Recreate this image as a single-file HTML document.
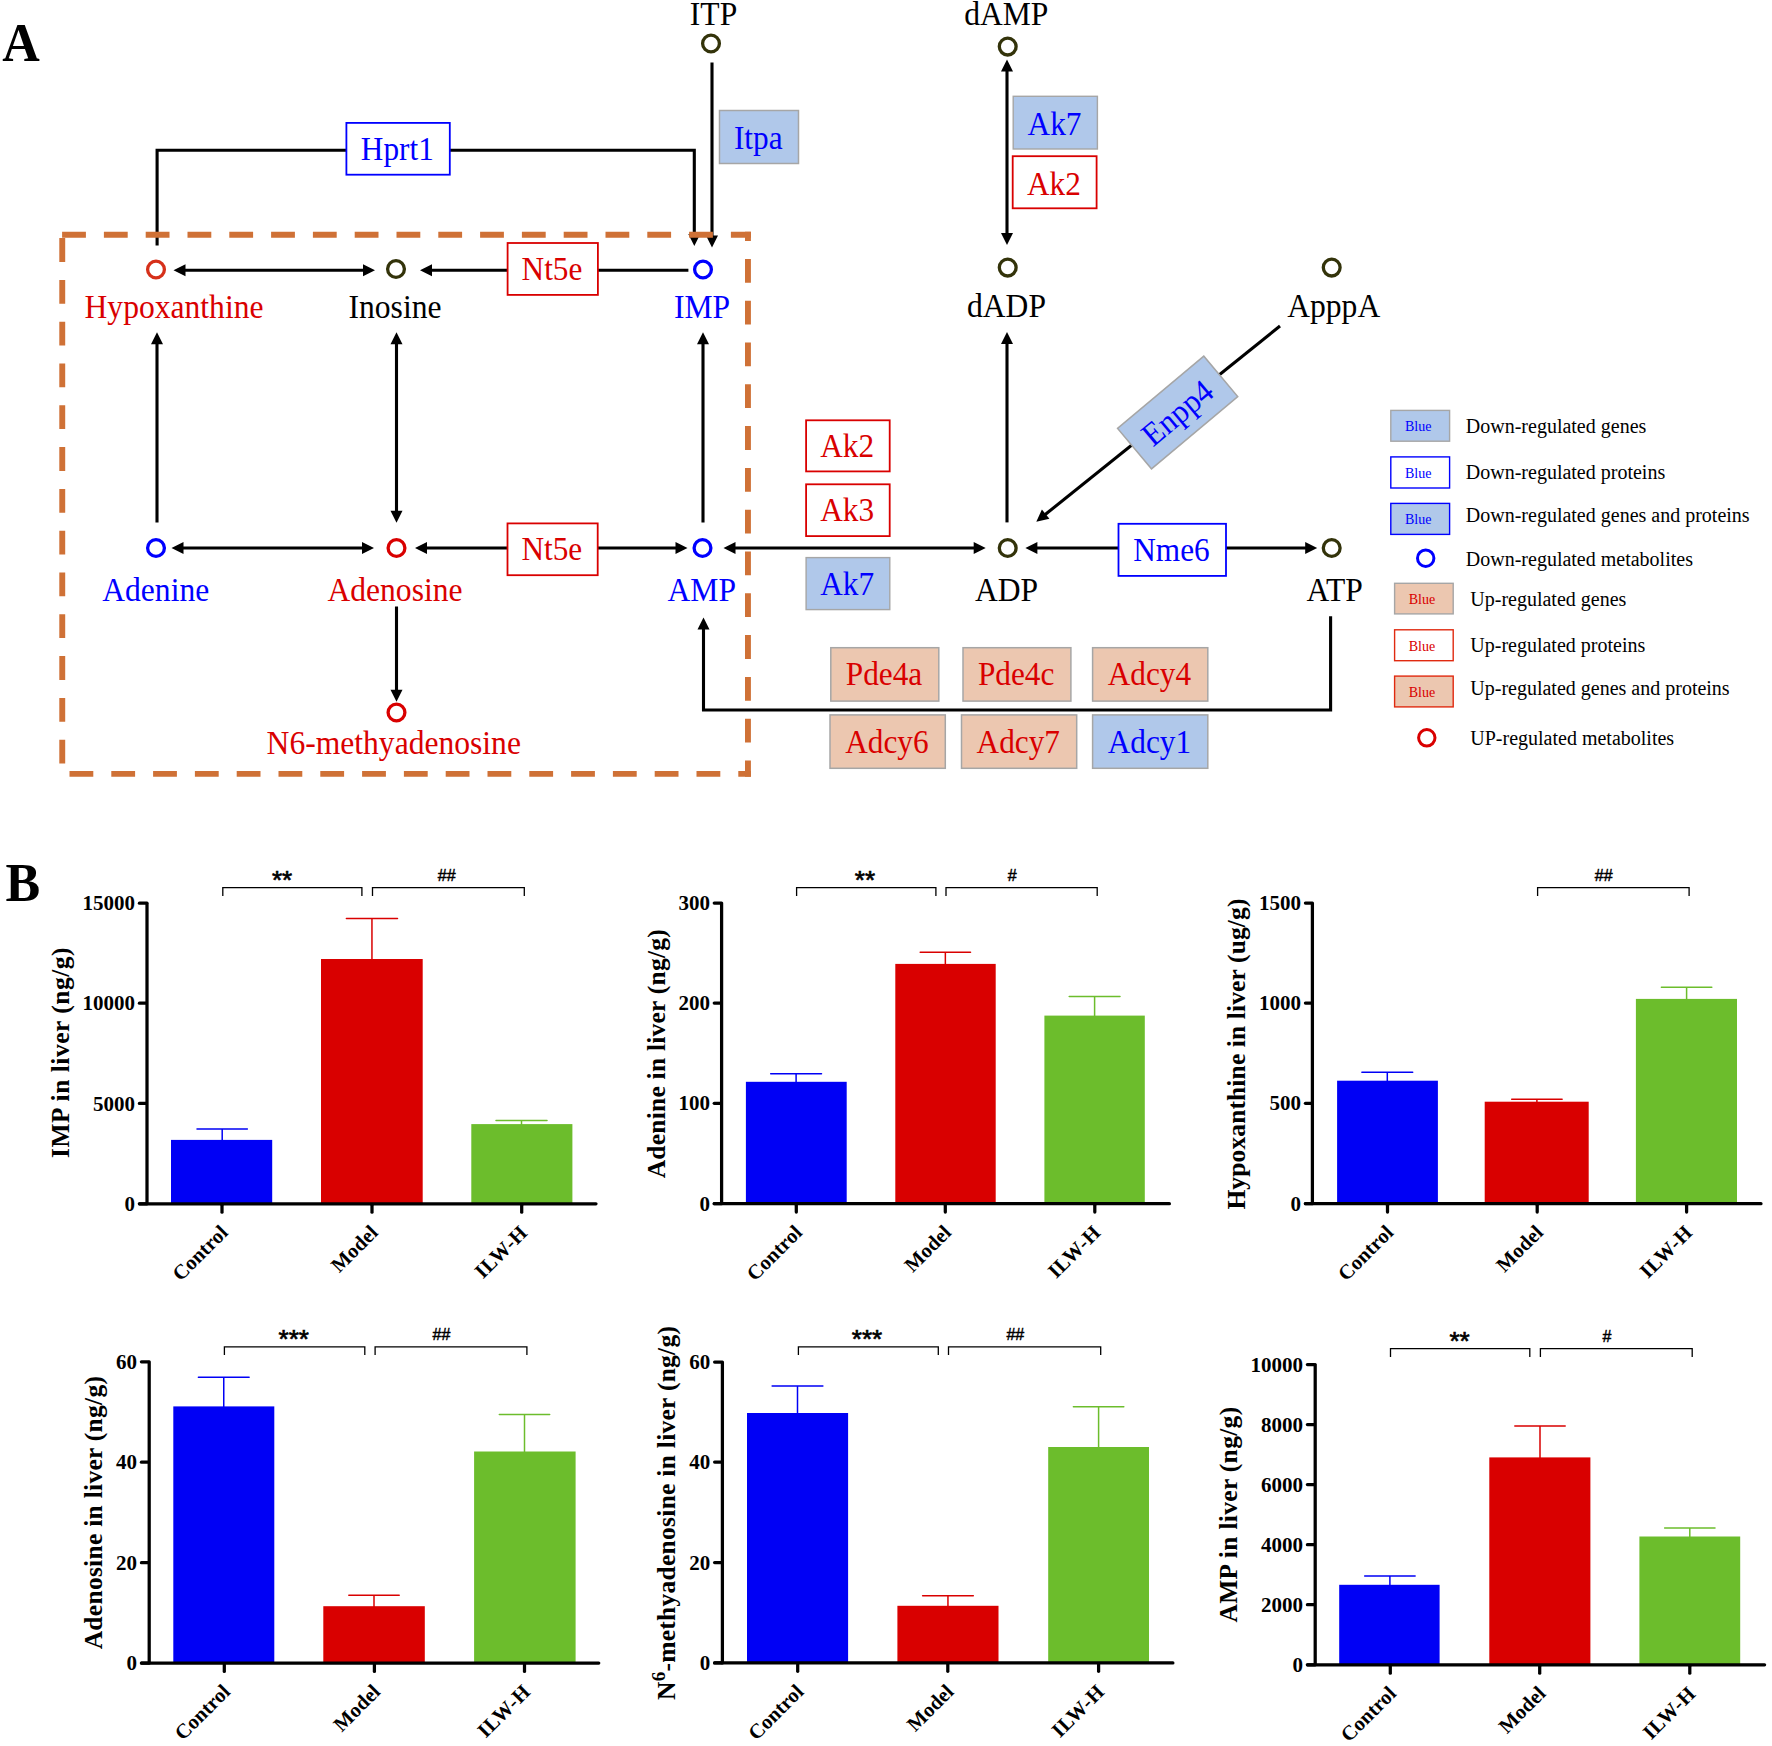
<!DOCTYPE html>
<html lang="en"><head><meta charset="utf-8"><title>Purine metabolism pathway and liver metabolite levels</title>
<style>html,body{margin:0;padding:0;background:#fff}svg{display:block}text{font-family:"Liberation Serif", "DejaVu Serif", serif;}text.ss{font-family:"Liberation Sans","DejaVu Sans",sans-serif;}</style></head><body>
<svg width="1772" height="1746" viewBox="0 0 1772 1746" role="img" aria-label="Purine metabolism pathway and liver metabolite bar charts">
<rect x="0" y="0" width="1772" height="1746" fill="#fff"/>
<text transform="translate(2.2 61.3) scale(1 1.045)" font-size="52" font-weight="bold">A</text>
<text transform="translate(5.4 901) scale(1 1.045)" font-size="52" font-weight="bold">B</text>
<polyline points="157.1,245.6 157.1,150.3 694.3,150.3 694.3,236" fill="none" stroke="#000" stroke-width="3.1" stroke-linejoin="miter"/>
<polygon points="694.3,246 688.3,234 700.3,234" fill="#000"/>
<line x1="712" y1="62.5" x2="712" y2="236.5" stroke="#000" stroke-width="3.1" stroke-linecap="butt"/>
<polygon points="712,247.5 706,235.5 718,235.5" fill="#000"/>
<line x1="184.5" y1="270.3" x2="364" y2="270.3" stroke="#000" stroke-width="3.1" stroke-linecap="butt"/>
<polygon points="173.5,270.3 185.5,264.3 185.5,276.3" fill="#000"/>
<polygon points="375,270.3 363,276.3 363,264.3" fill="#000"/>
<line x1="688.4" y1="270.3" x2="431" y2="270.3" stroke="#000" stroke-width="3.1" stroke-linecap="butt"/>
<polygon points="420,270.3 432,264.3 432,276.3" fill="#000"/>
<line x1="157" y1="522.5" x2="157" y2="343.3" stroke="#000" stroke-width="3.1" stroke-linecap="butt"/>
<polygon points="157,332.3 163,344.3 151,344.3" fill="#000"/>
<line x1="396.5" y1="343.3" x2="396.5" y2="511.8" stroke="#000" stroke-width="3.1" stroke-linecap="butt"/>
<polygon points="396.5,332.3 402.5,344.3 390.5,344.3" fill="#000"/>
<polygon points="396.5,522.8 390.5,510.8 402.5,510.8" fill="#000"/>
<line x1="703" y1="522.5" x2="703" y2="343.3" stroke="#000" stroke-width="3.1" stroke-linecap="butt"/>
<polygon points="703,332.3 709,344.3 697,344.3" fill="#000"/>
<line x1="182.5" y1="548" x2="363" y2="548" stroke="#000" stroke-width="3.1" stroke-linecap="butt"/>
<polygon points="171.5,548 183.5,542 183.5,554" fill="#000"/>
<polygon points="374,548 362,554 362,542" fill="#000"/>
<line x1="426" y1="548" x2="676.5" y2="548" stroke="#000" stroke-width="3.1" stroke-linecap="butt"/>
<polygon points="415,548 427,542 427,554" fill="#000"/>
<polygon points="687.5,548 675.5,554 675.5,542" fill="#000"/>
<line x1="734.5" y1="548" x2="974.7" y2="548" stroke="#000" stroke-width="3.1" stroke-linecap="butt"/>
<polygon points="723.5,548 735.5,542 735.5,554" fill="#000"/>
<polygon points="985.7,548 973.7,554 973.7,542" fill="#000"/>
<line x1="1036.4" y1="548" x2="1306.2" y2="548" stroke="#000" stroke-width="3.1" stroke-linecap="butt"/>
<polygon points="1025.4,548 1037.4,542 1037.4,554" fill="#000"/>
<polygon points="1317.2,548 1305.2,554 1305.2,542" fill="#000"/>
<line x1="396.5" y1="606.5" x2="396.5" y2="690.8" stroke="#000" stroke-width="3.1" stroke-linecap="butt"/>
<polygon points="396.5,701.8 390.5,689.8 402.5,689.8" fill="#000"/>
<polyline points="1330.6,616.3 1330.6,710 703.5,710 703.5,627" fill="none" stroke="#000" stroke-width="3.1" stroke-linejoin="miter"/>
<polygon points="703.5,617.5 709.5,629.5 697.5,629.5" fill="#000"/>
<line x1="1007" y1="522.4" x2="1007" y2="343" stroke="#000" stroke-width="3.1" stroke-linecap="butt"/>
<polygon points="1007,332 1013,344 1001,344" fill="#000"/>
<line x1="1007" y1="70.6" x2="1007" y2="233.9" stroke="#000" stroke-width="3.1" stroke-linecap="butt"/>
<polygon points="1007,59.6 1013,71.6 1001,71.6" fill="#000"/>
<polygon points="1007,244.9 1001,232.9 1013,232.9" fill="#000"/>
<line x1="1280" y1="326" x2="1044.88" y2="514.81" stroke="#000" stroke-width="3.1" stroke-linecap="butt"/>
<polygon points="1036.3,521.7 1041.9,509.51 1049.41,518.86" fill="#000"/>
<line x1="62.1" y1="234.7" x2="750.9" y2="234.7" stroke="#cf7136" stroke-width="6" stroke-dasharray="23.8 18" stroke-dashoffset="0"/>
<line x1="747.95" y1="231.7" x2="747.95" y2="776.8" stroke="#cf7136" stroke-width="5.9" stroke-dasharray="23.8 18" stroke-dashoffset="14.6"/>
<line x1="69.5" y1="773.9" x2="750.9" y2="773.9" stroke="#cf7136" stroke-width="5.9" stroke-dasharray="23.8 18" stroke-dashoffset="0"/>
<line x1="62.25" y1="238.1" x2="62.25" y2="764" stroke="#cf7136" stroke-width="5.9" stroke-dasharray="23.8 18" stroke-dashoffset="0"/>
<circle cx="711" cy="43.5" r="8.4" fill="#fff" stroke="#33330a" stroke-width="3.3"/>
<circle cx="1007.7" cy="46.6" r="8.4" fill="#fff" stroke="#33330a" stroke-width="3.3"/>
<circle cx="156" cy="269.5" r="8.4" fill="#fff" stroke="#d6301a" stroke-width="3.3"/>
<circle cx="396" cy="269" r="8.4" fill="#fff" stroke="#33330a" stroke-width="3.3"/>
<circle cx="703" cy="269.5" r="8.4" fill="#fff" stroke="#0000ff" stroke-width="3.3"/>
<circle cx="1007.7" cy="267.6" r="8.4" fill="#fff" stroke="#33330a" stroke-width="3.3"/>
<circle cx="1331.7" cy="267.6" r="8.4" fill="#fff" stroke="#33330a" stroke-width="3.3"/>
<circle cx="156" cy="548" r="8.4" fill="#fff" stroke="#0000ff" stroke-width="3.3"/>
<circle cx="396.5" cy="548" r="8.4" fill="#fff" stroke="#d90000" stroke-width="3.3"/>
<circle cx="702.5" cy="548" r="8.4" fill="#fff" stroke="#0000ff" stroke-width="3.3"/>
<circle cx="1007.7" cy="548" r="8.4" fill="#fff" stroke="#33330a" stroke-width="3.3"/>
<circle cx="1331.7" cy="548" r="8.4" fill="#fff" stroke="#33330a" stroke-width="3.3"/>
<circle cx="396.5" cy="712.5" r="8.4" fill="#fff" stroke="#d90000" stroke-width="3.3"/>
<text transform="translate(713.5 25) scale(1 1.045)" font-size="31.6" fill="#000" text-anchor="middle">ITP</text>
<text transform="translate(1006.3 24.6) scale(1 1.045)" font-size="31.6" fill="#000" text-anchor="middle">dAMP</text>
<text transform="translate(174 317.5) scale(1 1.045)" font-size="31.6" fill="#d90000" text-anchor="middle">Hypoxanthine</text>
<text transform="translate(395 317.5) scale(1 1.045)" font-size="31.6" fill="#000" text-anchor="middle">Inosine</text>
<text transform="translate(702 317.5) scale(1 1.045)" font-size="31.6" fill="#0000ff" text-anchor="middle">IMP</text>
<text transform="translate(1006.5 317) scale(1 1.045)" font-size="31.6" fill="#000" text-anchor="middle">dADP</text>
<text transform="translate(1333.7 317) scale(1 1.045)" font-size="31.6" fill="#000" text-anchor="middle">ApppA</text>
<text transform="translate(155.75 601) scale(1 1.045)" font-size="31.6" fill="#0000ff" text-anchor="middle">Adenine</text>
<text transform="translate(395 601) scale(1 1.045)" font-size="31.6" fill="#d90000" text-anchor="middle">Adenosine</text>
<text transform="translate(701.75 601) scale(1 1.045)" font-size="31.6" fill="#0000ff" text-anchor="middle">AMP</text>
<text transform="translate(1006.5 601) scale(1 1.045)" font-size="31.6" fill="#000" text-anchor="middle">ADP</text>
<text transform="translate(1334.7 601) scale(1 1.045)" font-size="31.6" fill="#000" text-anchor="middle">ATP</text>
<text transform="translate(393.75 754) scale(1 1.045)" font-size="31.6" fill="#d90000" text-anchor="middle">N6-methyadenosine</text>
<rect x="346.4" y="122.9" width="103.4" height="51.8" fill="#fff" stroke="#0000ff" stroke-width="1.8"/>
<text transform="translate(397.3 160.2) scale(1 1.045)" font-size="31.3" fill="#0000ff" text-anchor="middle">Hprt1</text>
<rect x="719.5" y="110.5" width="79" height="53" fill="#b0c8ea" stroke="#a6a6a6" stroke-width="1.5"/>
<text transform="translate(758.2 148.6) scale(1 1.045)" font-size="31.3" fill="#0000ff" text-anchor="middle">Itpa</text>
<rect x="507.6" y="243" width="90.3" height="51.9" fill="#fff" stroke="#d90000" stroke-width="1.8"/>
<text transform="translate(551.95 280.45) scale(1 1.045)" font-size="31.3" fill="#d90000" text-anchor="middle">Nt5e</text>
<rect x="507.5" y="523.4" width="90.2" height="51.8" fill="#fff" stroke="#d90000" stroke-width="1.8"/>
<text transform="translate(551.8 560.2) scale(1 1.045)" font-size="31.3" fill="#d90000" text-anchor="middle">Nt5e</text>
<rect x="1013.2" y="96.3" width="84.2" height="52.7" fill="#b0c8ea" stroke="#a6a6a6" stroke-width="1.4"/>
<text transform="translate(1054.5 134.55) scale(1 1.045)" font-size="31.3" fill="#0000ff" text-anchor="middle">Ak7</text>
<rect x="1012.7" y="156.2" width="83.9" height="52.1" fill="#fff" stroke="#d90000" stroke-width="1.8"/>
<text transform="translate(1053.85 194.55) scale(1 1.045)" font-size="31.3" fill="#d90000" text-anchor="middle">Ak2</text>
<rect x="806.1" y="420.3" width="83.6" height="51.1" fill="#fff" stroke="#d90000" stroke-width="1.8"/>
<text transform="translate(847.1 457.05) scale(1 1.045)" font-size="31.3" fill="#d90000" text-anchor="middle">Ak2</text>
<rect x="806.1" y="484.3" width="83.6" height="51.8" fill="#fff" stroke="#d90000" stroke-width="1.8"/>
<text transform="translate(847.1 521.1) scale(1 1.045)" font-size="31.3" fill="#d90000" text-anchor="middle">Ak3</text>
<rect x="806.1" y="557.6" width="83.7" height="52" fill="#b0c8ea" stroke="#a6a6a6" stroke-width="1.4"/>
<text transform="translate(847.15 595) scale(1 1.045)" font-size="31.3" fill="#0000ff" text-anchor="middle">Ak7</text>
<rect x="1118.5" y="523.8" width="107.5" height="52.1" fill="#fff" stroke="#0000ff" stroke-width="1.8"/>
<text transform="translate(1171.45 561.25) scale(1 1.045)" font-size="31.3" fill="#0000ff" text-anchor="middle">Nme6</text>
<rect x="830.8" y="647.7" width="108" height="53.4" fill="#ecc7b0" stroke="#a6a6a6" stroke-width="1.5"/>
<text transform="translate(884 685.2) scale(1 1.045)" font-size="31.3" fill="#d90000" text-anchor="middle">Pde4a</text>
<rect x="963" y="647.7" width="107.9" height="53.4" fill="#ecc7b0" stroke="#a6a6a6" stroke-width="1.5"/>
<text transform="translate(1016.15 685.2) scale(1 1.045)" font-size="31.3" fill="#d90000" text-anchor="middle">Pde4c</text>
<rect x="1092.6" y="647.7" width="115.2" height="53.4" fill="#ecc7b0" stroke="#a6a6a6" stroke-width="1.5"/>
<text transform="translate(1149.4 685.2) scale(1 1.045)" font-size="31.3" fill="#d90000" text-anchor="middle">Adcy4</text>
<rect x="830" y="714.9" width="115.3" height="53.4" fill="#ecc7b0" stroke="#a6a6a6" stroke-width="1.5"/>
<text transform="translate(886.85 753) scale(1 1.045)" font-size="31.3" fill="#d90000" text-anchor="middle">Adcy6</text>
<rect x="961.5" y="714.9" width="115.2" height="53.4" fill="#ecc7b0" stroke="#a6a6a6" stroke-width="1.5"/>
<text transform="translate(1018.3 753) scale(1 1.045)" font-size="31.3" fill="#d90000" text-anchor="middle">Adcy7</text>
<rect x="1092.6" y="714.9" width="115.2" height="53.4" fill="#b0c8ea" stroke="#a6a6a6" stroke-width="1.5"/>
<text transform="translate(1149.4 753) scale(1 1.045)" font-size="31.3" fill="#0000ff" text-anchor="middle">Adcy1</text>
<g transform="translate(1177.65 412.5) rotate(-40)">
<rect x="-56.3" y="-26.4" width="112.6" height="52.8" fill="#b0c8ea" stroke="#a6a6a6" stroke-width="1.5"/>
<text transform="translate(-0.5 11) scale(1 1.045)" font-size="31.3" fill="#0000ff" text-anchor="middle">Enpp4</text>
</g>
<rect x="1390.8" y="410.4" width="58.8" height="30.8" fill="#b0c8ea" stroke="#a6a6a6" stroke-width="1.4"/>
<text x="1418.2" y="431.3" font-size="14" fill="#0000ff" text-anchor="middle">Blue</text>
<rect x="1390.8" y="456.9" width="58.8" height="31.1" fill="#fff" stroke="#0000ff" stroke-width="1.4"/>
<text x="1418.2" y="477.95" font-size="14" fill="#0000ff" text-anchor="middle">Blue</text>
<rect x="1390.8" y="503.4" width="58.8" height="31" fill="#b0c8ea" stroke="#0000ff" stroke-width="1.4"/>
<text x="1418.2" y="524.4" font-size="14" fill="#0000ff" text-anchor="middle">Blue</text>
<circle cx="1425.7" cy="558.2" r="8.2" fill="#fff" stroke="#0000ff" stroke-width="3"/>
<rect x="1394.6" y="583.3" width="58.6" height="30.6" fill="#ecc7b0" stroke="#a6a6a6" stroke-width="1.4"/>
<text x="1421.9" y="604.1" font-size="14" fill="#d90000" text-anchor="middle">Blue</text>
<rect x="1394.6" y="629.8" width="58.6" height="30.9" fill="#fff" stroke="#e02a10" stroke-width="1.4"/>
<text x="1421.9" y="650.75" font-size="14" fill="#d90000" text-anchor="middle">Blue</text>
<rect x="1394.6" y="676.1" width="58.6" height="30.8" fill="#ecc7b0" stroke="#e02a10" stroke-width="1.4"/>
<text x="1421.9" y="697" font-size="14" fill="#d90000" text-anchor="middle">Blue</text>
<circle cx="1426.8" cy="737.8" r="8.2" fill="#fff" stroke="#d90000" stroke-width="3"/>
<text x="1465.8" y="433" font-size="20" fill="#000" text-anchor="start">Down-regulated genes</text>
<text x="1465.8" y="479" font-size="20" fill="#000" text-anchor="start">Down-regulated proteins</text>
<text x="1465.8" y="521.9" font-size="20" fill="#000" text-anchor="start">Down-regulated genes and proteins</text>
<text x="1465.8" y="565.5" font-size="20" fill="#000" text-anchor="start">Down-regulated metabolites</text>
<text x="1470.3" y="605.5" font-size="20" fill="#000" text-anchor="start">Up-regulated genes</text>
<text x="1470.3" y="651.5" font-size="20" fill="#000" text-anchor="start">Up-regulated proteins</text>
<text x="1470.3" y="695" font-size="20" fill="#000" text-anchor="start">Up-regulated genes and proteins</text>
<text x="1470.3" y="745" font-size="20" fill="#000" text-anchor="start">UP-regulated metabolites</text>
<line x1="222.2" y1="1129" x2="222.2" y2="1141.9" stroke="#0000f5" stroke-width="1.5" stroke-linecap="butt"/>
<line x1="197" y1="1129" x2="247.4" y2="1129" stroke="#0000f5" stroke-width="1.5" stroke-linecap="round"/>
<rect x="171" y="1139.9" width="101.2" height="63.9" fill="#0000f5"/>
<line x1="371.95" y1="918.4" x2="371.95" y2="961" stroke="#d90000" stroke-width="1.5" stroke-linecap="butt"/>
<line x1="346.4" y1="918.4" x2="397.5" y2="918.4" stroke="#d90000" stroke-width="1.5" stroke-linecap="round"/>
<rect x="321" y="959" width="101.7" height="244.8" fill="#d90000"/>
<line x1="521.5" y1="1120.6" x2="521.5" y2="1126.1" stroke="#6cbd2c" stroke-width="1.5" stroke-linecap="butt"/>
<line x1="496" y1="1120.6" x2="547" y2="1120.6" stroke="#6cbd2c" stroke-width="1.5" stroke-linecap="round"/>
<rect x="471.3" y="1124.1" width="101.1" height="79.7" fill="#6cbd2c"/>
<line x1="147" y1="903.2" x2="147" y2="1203.8" stroke="#000" stroke-width="3.25" stroke-linecap="round"/>
<line x1="139.43" y1="1203.8" x2="595.98" y2="1203.8" stroke="#000" stroke-width="3.25" stroke-linecap="round"/>
<line x1="139.43" y1="903.2" x2="146" y2="903.2" stroke="#000" stroke-width="3.25" stroke-linecap="round"/>
<text x="135.1" y="910.3" font-size="21" fill="#000" text-anchor="end" font-weight="bold">15000</text>
<line x1="139.43" y1="1003.2" x2="146" y2="1003.2" stroke="#000" stroke-width="3.25" stroke-linecap="round"/>
<text x="135.1" y="1010.3" font-size="21" fill="#000" text-anchor="end" font-weight="bold">10000</text>
<line x1="139.43" y1="1103.4" x2="146" y2="1103.4" stroke="#000" stroke-width="3.25" stroke-linecap="round"/>
<text x="135.1" y="1110.5" font-size="21" fill="#000" text-anchor="end" font-weight="bold">5000</text>
<line x1="139.43" y1="1203.8" x2="146" y2="1203.8" stroke="#000" stroke-width="3.25" stroke-linecap="round"/>
<text x="135.1" y="1210.9" font-size="21" fill="#000" text-anchor="end" font-weight="bold">0</text>
<line x1="222" y1="1205.3" x2="222" y2="1212.17" stroke="#000" stroke-width="3.25" stroke-linecap="round"/>
<text transform="translate(229 1233.8) rotate(-45)" font-size="20.6" font-weight="bold" text-anchor="end">Control</text>
<line x1="372" y1="1205.3" x2="372" y2="1212.17" stroke="#000" stroke-width="3.25" stroke-linecap="round"/>
<text transform="translate(379 1233.8) rotate(-45)" font-size="20.6" font-weight="bold" text-anchor="end">Model</text>
<line x1="521.7" y1="1205.3" x2="521.7" y2="1212.17" stroke="#000" stroke-width="3.25" stroke-linecap="round"/>
<text transform="translate(528.7 1233.8) rotate(-45)" font-size="20.6" font-weight="bold" text-anchor="end" letter-spacing="0.4">ILW-H</text>
<polyline points="222.8,895.9 222.8,887.6 361.9,887.6 361.9,895.9" fill="none" stroke="#000" stroke-width="1.3" stroke-linejoin="miter"/>
<polyline points="372.5,895.9 372.5,887.6 524.3,887.6 524.3,895.9" fill="none" stroke="#000" stroke-width="1.3" stroke-linejoin="miter"/>
<text x="282.1" y="888.7" font-size="26" fill="#000" text-anchor="middle" class="ss" stroke="#000" stroke-width="0.7">**</text>
<text x="446.7" y="880.9" font-size="16" fill="#000" text-anchor="middle" class="ss" stroke="#000" stroke-width="0.45">##</text>
<text transform="translate(69 1052.7) rotate(-90)" font-size="25.5" font-weight="bold" text-anchor="middle" textLength="210.5" lengthAdjust="spacing">IMP in liver (ng/g)</text>
<line x1="796.1" y1="1073.7" x2="796.1" y2="1083.8" stroke="#0000f5" stroke-width="1.5" stroke-linecap="butt"/>
<line x1="770.7" y1="1073.7" x2="821.5" y2="1073.7" stroke="#0000f5" stroke-width="1.5" stroke-linecap="round"/>
<rect x="745.9" y="1081.8" width="100.8" height="121.9" fill="#0000f5"/>
<line x1="945.35" y1="952.3" x2="945.35" y2="965.9" stroke="#d90000" stroke-width="1.5" stroke-linecap="butt"/>
<line x1="920.2" y1="952.3" x2="970.5" y2="952.3" stroke="#d90000" stroke-width="1.5" stroke-linecap="round"/>
<rect x="895.3" y="963.9" width="100.4" height="239.8" fill="#d90000"/>
<line x1="1094.6" y1="996.4" x2="1094.6" y2="1017.6" stroke="#6cbd2c" stroke-width="1.5" stroke-linecap="butt"/>
<line x1="1069.2" y1="996.4" x2="1120" y2="996.4" stroke="#6cbd2c" stroke-width="1.5" stroke-linecap="round"/>
<rect x="1044.4" y="1015.6" width="100.4" height="188.1" fill="#6cbd2c"/>
<line x1="721.6" y1="903" x2="721.6" y2="1203.7" stroke="#000" stroke-width="3.25" stroke-linecap="round"/>
<line x1="714.23" y1="1203.7" x2="1169.38" y2="1203.7" stroke="#000" stroke-width="3.25" stroke-linecap="round"/>
<line x1="714.23" y1="903" x2="720.6" y2="903" stroke="#000" stroke-width="3.25" stroke-linecap="round"/>
<text x="709.9" y="910.1" font-size="21" fill="#000" text-anchor="end" font-weight="bold">300</text>
<line x1="714.23" y1="1003.1" x2="720.6" y2="1003.1" stroke="#000" stroke-width="3.25" stroke-linecap="round"/>
<text x="709.9" y="1010.2" font-size="21" fill="#000" text-anchor="end" font-weight="bold">200</text>
<line x1="714.23" y1="1103.3" x2="720.6" y2="1103.3" stroke="#000" stroke-width="3.25" stroke-linecap="round"/>
<text x="709.9" y="1110.4" font-size="21" fill="#000" text-anchor="end" font-weight="bold">100</text>
<line x1="714.23" y1="1203.7" x2="720.6" y2="1203.7" stroke="#000" stroke-width="3.25" stroke-linecap="round"/>
<text x="709.9" y="1210.8" font-size="21" fill="#000" text-anchor="end" font-weight="bold">0</text>
<line x1="796.3" y1="1205.2" x2="796.3" y2="1212.08" stroke="#000" stroke-width="3.25" stroke-linecap="round"/>
<text transform="translate(803.3 1233.7) rotate(-45)" font-size="20.6" font-weight="bold" text-anchor="end">Control</text>
<line x1="945.3" y1="1205.2" x2="945.3" y2="1212.08" stroke="#000" stroke-width="3.25" stroke-linecap="round"/>
<text transform="translate(952.3 1233.7) rotate(-45)" font-size="20.6" font-weight="bold" text-anchor="end">Model</text>
<line x1="1094.8" y1="1205.2" x2="1094.8" y2="1212.08" stroke="#000" stroke-width="3.25" stroke-linecap="round"/>
<text transform="translate(1101.8 1233.7) rotate(-45)" font-size="20.6" font-weight="bold" text-anchor="end" letter-spacing="0.4">ILW-H</text>
<polyline points="796.6,895.9 796.6,887.6 935.9,887.6 935.9,895.9" fill="none" stroke="#000" stroke-width="1.3" stroke-linejoin="miter"/>
<polyline points="946,895.9 946,887.6 1097.2,887.6 1097.2,895.9" fill="none" stroke="#000" stroke-width="1.3" stroke-linejoin="miter"/>
<text x="864.9" y="888.7" font-size="26" fill="#000" text-anchor="middle" class="ss" stroke="#000" stroke-width="0.7">**</text>
<text x="1012.2" y="880.9" font-size="16" fill="#000" text-anchor="middle" class="ss" stroke="#000" stroke-width="0.45">#</text>
<text transform="translate(665 1053.8) rotate(-90)" font-size="25.5" font-weight="bold" text-anchor="middle" textLength="249" lengthAdjust="spacing">Adenine in liver (ng/g)</text>
<line x1="1387.3" y1="1072.3" x2="1387.3" y2="1082.7" stroke="#0000f5" stroke-width="1.5" stroke-linecap="butt"/>
<line x1="1361.9" y1="1072.3" x2="1412.7" y2="1072.3" stroke="#0000f5" stroke-width="1.5" stroke-linecap="round"/>
<rect x="1337.1" y="1080.7" width="100.8" height="123" fill="#0000f5"/>
<line x1="1536.9" y1="1099.3" x2="1536.9" y2="1103.7" stroke="#d90000" stroke-width="1.5" stroke-linecap="butt"/>
<line x1="1511.7" y1="1099.3" x2="1562.1" y2="1099.3" stroke="#d90000" stroke-width="1.5" stroke-linecap="round"/>
<rect x="1484.7" y="1101.7" width="104" height="102" fill="#d90000"/>
<line x1="1686.6" y1="987.3" x2="1686.6" y2="1000.9" stroke="#6cbd2c" stroke-width="1.5" stroke-linecap="butt"/>
<line x1="1661.4" y1="987.3" x2="1711.8" y2="987.3" stroke="#6cbd2c" stroke-width="1.5" stroke-linecap="round"/>
<rect x="1635.9" y="998.9" width="101.1" height="204.8" fill="#6cbd2c"/>
<line x1="1312.4" y1="903" x2="1312.4" y2="1203.7" stroke="#000" stroke-width="3.25" stroke-linecap="round"/>
<line x1="1305.42" y1="1203.7" x2="1760.97" y2="1203.7" stroke="#000" stroke-width="3.25" stroke-linecap="round"/>
<line x1="1305.42" y1="903" x2="1311.4" y2="903" stroke="#000" stroke-width="3.25" stroke-linecap="round"/>
<text x="1301.1" y="910.1" font-size="21" fill="#000" text-anchor="end" font-weight="bold">1500</text>
<line x1="1305.42" y1="1003.1" x2="1311.4" y2="1003.1" stroke="#000" stroke-width="3.25" stroke-linecap="round"/>
<text x="1301.1" y="1010.2" font-size="21" fill="#000" text-anchor="end" font-weight="bold">1000</text>
<line x1="1305.42" y1="1103.3" x2="1311.4" y2="1103.3" stroke="#000" stroke-width="3.25" stroke-linecap="round"/>
<text x="1301.1" y="1110.4" font-size="21" fill="#000" text-anchor="end" font-weight="bold">500</text>
<line x1="1305.42" y1="1203.7" x2="1311.4" y2="1203.7" stroke="#000" stroke-width="3.25" stroke-linecap="round"/>
<text x="1301.1" y="1210.8" font-size="21" fill="#000" text-anchor="end" font-weight="bold">0</text>
<line x1="1387.5" y1="1205.2" x2="1387.5" y2="1212.08" stroke="#000" stroke-width="3.25" stroke-linecap="round"/>
<text transform="translate(1394.5 1233.7) rotate(-45)" font-size="20.6" font-weight="bold" text-anchor="end">Control</text>
<line x1="1537.2" y1="1205.2" x2="1537.2" y2="1212.08" stroke="#000" stroke-width="3.25" stroke-linecap="round"/>
<text transform="translate(1544.2 1233.7) rotate(-45)" font-size="20.6" font-weight="bold" text-anchor="end">Model</text>
<line x1="1686.6" y1="1205.2" x2="1686.6" y2="1212.08" stroke="#000" stroke-width="3.25" stroke-linecap="round"/>
<text transform="translate(1693.6 1233.7) rotate(-45)" font-size="20.6" font-weight="bold" text-anchor="end" letter-spacing="0.4">ILW-H</text>
<polyline points="1537.6,895.9 1537.6,887.6 1689.1,887.6 1689.1,895.9" fill="none" stroke="#000" stroke-width="1.3" stroke-linejoin="miter"/>
<text x="1603.7" y="880.9" font-size="16" fill="#000" text-anchor="middle" class="ss" stroke="#000" stroke-width="0.45">##</text>
<text transform="translate(1245.3 1054.1) rotate(-90)" font-size="25.5" font-weight="bold" text-anchor="middle" textLength="311" lengthAdjust="spacing">Hypoxanthine in liver (ug/g)</text>
<line x1="223.75" y1="1377.3" x2="223.75" y2="1408.4" stroke="#0000f5" stroke-width="1.5" stroke-linecap="butt"/>
<line x1="198.4" y1="1377.3" x2="249.1" y2="1377.3" stroke="#0000f5" stroke-width="1.5" stroke-linecap="round"/>
<rect x="173.3" y="1406.4" width="101" height="256.6" fill="#0000f5"/>
<line x1="374" y1="1595.3" x2="374" y2="1608.2" stroke="#d90000" stroke-width="1.5" stroke-linecap="butt"/>
<line x1="348.8" y1="1595.3" x2="399.2" y2="1595.3" stroke="#d90000" stroke-width="1.5" stroke-linecap="round"/>
<rect x="323.3" y="1606.2" width="101.5" height="56.8" fill="#d90000"/>
<line x1="524.5" y1="1414.4" x2="524.5" y2="1453.5" stroke="#6cbd2c" stroke-width="1.5" stroke-linecap="butt"/>
<line x1="499.3" y1="1414.4" x2="549.7" y2="1414.4" stroke="#6cbd2c" stroke-width="1.5" stroke-linecap="round"/>
<rect x="474.1" y="1451.5" width="101.5" height="211.5" fill="#6cbd2c"/>
<line x1="149.2" y1="1361.8" x2="149.2" y2="1663" stroke="#000" stroke-width="3.25" stroke-linecap="round"/>
<line x1="141.43" y1="1663" x2="598.77" y2="1663" stroke="#000" stroke-width="3.25" stroke-linecap="round"/>
<line x1="141.43" y1="1361.8" x2="148.2" y2="1361.8" stroke="#000" stroke-width="3.25" stroke-linecap="round"/>
<text x="137.1" y="1368.9" font-size="21" fill="#000" text-anchor="end" font-weight="bold">60</text>
<line x1="141.43" y1="1462.2" x2="148.2" y2="1462.2" stroke="#000" stroke-width="3.25" stroke-linecap="round"/>
<text x="137.1" y="1469.3" font-size="21" fill="#000" text-anchor="end" font-weight="bold">40</text>
<line x1="141.43" y1="1562.7" x2="148.2" y2="1562.7" stroke="#000" stroke-width="3.25" stroke-linecap="round"/>
<text x="137.1" y="1569.8" font-size="21" fill="#000" text-anchor="end" font-weight="bold">20</text>
<line x1="141.43" y1="1663" x2="148.2" y2="1663" stroke="#000" stroke-width="3.25" stroke-linecap="round"/>
<text x="137.1" y="1670.1" font-size="21" fill="#000" text-anchor="end" font-weight="bold">0</text>
<line x1="224.3" y1="1664.5" x2="224.3" y2="1671.38" stroke="#000" stroke-width="3.25" stroke-linecap="round"/>
<text transform="translate(231.3 1693) rotate(-45)" font-size="20.6" font-weight="bold" text-anchor="end">Control</text>
<line x1="374.4" y1="1664.5" x2="374.4" y2="1671.38" stroke="#000" stroke-width="3.25" stroke-linecap="round"/>
<text transform="translate(381.4 1693) rotate(-45)" font-size="20.6" font-weight="bold" text-anchor="end">Model</text>
<line x1="524.5" y1="1664.5" x2="524.5" y2="1671.38" stroke="#000" stroke-width="3.25" stroke-linecap="round"/>
<text transform="translate(531.5 1693) rotate(-45)" font-size="20.6" font-weight="bold" text-anchor="end" letter-spacing="0.4">ILW-H</text>
<polyline points="224.4,1355.1 224.4,1346.8 364.8,1346.8 364.8,1355.1" fill="none" stroke="#000" stroke-width="1.3" stroke-linejoin="miter"/>
<polyline points="375.1,1355.1 375.1,1346.8 526.9,1346.8 526.9,1355.1" fill="none" stroke="#000" stroke-width="1.3" stroke-linejoin="miter"/>
<text x="293.8" y="1347.8" font-size="26" fill="#000" text-anchor="middle" class="ss" stroke="#000" stroke-width="0.7">***</text>
<text x="441.5" y="1340" font-size="16" fill="#000" text-anchor="middle" class="ss" stroke="#000" stroke-width="0.45">##</text>
<text transform="translate(102.3 1512.7) rotate(-90)" font-size="25.5" font-weight="bold" text-anchor="middle" textLength="273.3" lengthAdjust="spacing">Adenosine in liver (ng/g)</text>
<line x1="797.5" y1="1386.1" x2="797.5" y2="1415" stroke="#0000f5" stroke-width="1.5" stroke-linecap="butt"/>
<line x1="772.1" y1="1386.1" x2="822.9" y2="1386.1" stroke="#0000f5" stroke-width="1.5" stroke-linecap="round"/>
<rect x="747" y="1413" width="101.1" height="249.9" fill="#0000f5"/>
<line x1="947.95" y1="1595.7" x2="947.95" y2="1607.8" stroke="#d90000" stroke-width="1.5" stroke-linecap="butt"/>
<line x1="922.6" y1="1595.7" x2="973.3" y2="1595.7" stroke="#d90000" stroke-width="1.5" stroke-linecap="round"/>
<rect x="897.4" y="1605.8" width="101.1" height="57.1" fill="#d90000"/>
<line x1="1098.6" y1="1406.7" x2="1098.6" y2="1449" stroke="#6cbd2c" stroke-width="1.5" stroke-linecap="butt"/>
<line x1="1073.4" y1="1406.7" x2="1123.8" y2="1406.7" stroke="#6cbd2c" stroke-width="1.5" stroke-linecap="round"/>
<rect x="1048.2" y="1447" width="100.8" height="215.9" fill="#6cbd2c"/>
<line x1="722.4" y1="1362" x2="722.4" y2="1662.9" stroke="#000" stroke-width="3.25" stroke-linecap="round"/>
<line x1="714.62" y1="1662.9" x2="1172.88" y2="1662.9" stroke="#000" stroke-width="3.25" stroke-linecap="round"/>
<line x1="714.62" y1="1362" x2="721.4" y2="1362" stroke="#000" stroke-width="3.25" stroke-linecap="round"/>
<text x="710.3" y="1369.1" font-size="21" fill="#000" text-anchor="end" font-weight="bold">60</text>
<line x1="714.62" y1="1462" x2="721.4" y2="1462" stroke="#000" stroke-width="3.25" stroke-linecap="round"/>
<text x="710.3" y="1469.1" font-size="21" fill="#000" text-anchor="end" font-weight="bold">40</text>
<line x1="714.62" y1="1562.5" x2="721.4" y2="1562.5" stroke="#000" stroke-width="3.25" stroke-linecap="round"/>
<text x="710.3" y="1569.6" font-size="21" fill="#000" text-anchor="end" font-weight="bold">20</text>
<line x1="714.62" y1="1662.9" x2="721.4" y2="1662.9" stroke="#000" stroke-width="3.25" stroke-linecap="round"/>
<text x="710.3" y="1670" font-size="21" fill="#000" text-anchor="end" font-weight="bold">0</text>
<line x1="797.7" y1="1664.4" x2="797.7" y2="1671.28" stroke="#000" stroke-width="3.25" stroke-linecap="round"/>
<text transform="translate(804.7 1692.9) rotate(-45)" font-size="20.6" font-weight="bold" text-anchor="end">Control</text>
<line x1="947.8" y1="1664.4" x2="947.8" y2="1671.28" stroke="#000" stroke-width="3.25" stroke-linecap="round"/>
<text transform="translate(954.8 1692.9) rotate(-45)" font-size="20.6" font-weight="bold" text-anchor="end">Model</text>
<line x1="1098.6" y1="1664.4" x2="1098.6" y2="1671.28" stroke="#000" stroke-width="3.25" stroke-linecap="round"/>
<text transform="translate(1105.6 1692.9) rotate(-45)" font-size="20.6" font-weight="bold" text-anchor="end" letter-spacing="0.4">ILW-H</text>
<polyline points="798.4,1355.1 798.4,1346.8 938.3,1346.8 938.3,1355.1" fill="none" stroke="#000" stroke-width="1.3" stroke-linejoin="miter"/>
<polyline points="948.5,1355.1 948.5,1346.8 1100.7,1346.8 1100.7,1355.1" fill="none" stroke="#000" stroke-width="1.3" stroke-linejoin="miter"/>
<text x="867" y="1347.8" font-size="26" fill="#000" text-anchor="middle" class="ss" stroke="#000" stroke-width="0.7">***</text>
<text x="1015.3" y="1340" font-size="16" fill="#000" text-anchor="middle" class="ss" stroke="#000" stroke-width="0.45">##</text>
<text transform="translate(675.2 1513) rotate(-90)" font-size="25.5" font-weight="bold" text-anchor="middle" textLength="374" lengthAdjust="spacing">N<tspan font-size="19" dy="-10.5">6</tspan><tspan dy="10.5">-methyadenosine in liver (ng/g)</tspan></text>
<line x1="1389.9" y1="1576" x2="1389.9" y2="1586.8" stroke="#0000f5" stroke-width="1.5" stroke-linecap="butt"/>
<line x1="1364.7" y1="1576" x2="1415.1" y2="1576" stroke="#0000f5" stroke-width="1.5" stroke-linecap="round"/>
<rect x="1339.2" y="1584.8" width="100.4" height="80" fill="#0000f5"/>
<line x1="1540" y1="1426" x2="1540" y2="1459.4" stroke="#d90000" stroke-width="1.5" stroke-linecap="butt"/>
<line x1="1514.8" y1="1426" x2="1565.2" y2="1426" stroke="#d90000" stroke-width="1.5" stroke-linecap="round"/>
<rect x="1489.3" y="1457.4" width="101.1" height="207.4" fill="#d90000"/>
<line x1="1689.8" y1="1528.1" x2="1689.8" y2="1538.5" stroke="#6cbd2c" stroke-width="1.5" stroke-linecap="butt"/>
<line x1="1664.6" y1="1528.1" x2="1715" y2="1528.1" stroke="#6cbd2c" stroke-width="1.5" stroke-linecap="round"/>
<rect x="1639.4" y="1536.5" width="100.8" height="128.3" fill="#6cbd2c"/>
<line x1="1315.2" y1="1364.6" x2="1315.2" y2="1664.8" stroke="#000" stroke-width="3.25" stroke-linecap="round"/>
<line x1="1307.42" y1="1664.8" x2="1764.58" y2="1664.8" stroke="#000" stroke-width="3.25" stroke-linecap="round"/>
<line x1="1307.42" y1="1364.6" x2="1314.2" y2="1364.6" stroke="#000" stroke-width="3.25" stroke-linecap="round"/>
<text x="1303.1" y="1371.7" font-size="21" fill="#000" text-anchor="end" font-weight="bold">10000</text>
<line x1="1307.42" y1="1424.6" x2="1314.2" y2="1424.6" stroke="#000" stroke-width="3.25" stroke-linecap="round"/>
<text x="1303.1" y="1431.7" font-size="21" fill="#000" text-anchor="end" font-weight="bold">8000</text>
<line x1="1307.42" y1="1484.6" x2="1314.2" y2="1484.6" stroke="#000" stroke-width="3.25" stroke-linecap="round"/>
<text x="1303.1" y="1491.7" font-size="21" fill="#000" text-anchor="end" font-weight="bold">6000</text>
<line x1="1307.42" y1="1544.7" x2="1314.2" y2="1544.7" stroke="#000" stroke-width="3.25" stroke-linecap="round"/>
<text x="1303.1" y="1551.8" font-size="21" fill="#000" text-anchor="end" font-weight="bold">4000</text>
<line x1="1307.42" y1="1604.7" x2="1314.2" y2="1604.7" stroke="#000" stroke-width="3.25" stroke-linecap="round"/>
<text x="1303.1" y="1611.8" font-size="21" fill="#000" text-anchor="end" font-weight="bold">2000</text>
<line x1="1307.42" y1="1664.8" x2="1314.2" y2="1664.8" stroke="#000" stroke-width="3.25" stroke-linecap="round"/>
<text x="1303.1" y="1671.9" font-size="21" fill="#000" text-anchor="end" font-weight="bold">0</text>
<line x1="1390.3" y1="1666.3" x2="1390.3" y2="1673.17" stroke="#000" stroke-width="3.25" stroke-linecap="round"/>
<text transform="translate(1397.3 1694.8) rotate(-45)" font-size="20.6" font-weight="bold" text-anchor="end">Control</text>
<line x1="1539.7" y1="1666.3" x2="1539.7" y2="1673.17" stroke="#000" stroke-width="3.25" stroke-linecap="round"/>
<text transform="translate(1546.7 1694.8) rotate(-45)" font-size="20.6" font-weight="bold" text-anchor="end">Model</text>
<line x1="1689.8" y1="1666.3" x2="1689.8" y2="1673.17" stroke="#000" stroke-width="3.25" stroke-linecap="round"/>
<text transform="translate(1696.8 1694.8) rotate(-45)" font-size="20.6" font-weight="bold" text-anchor="end" letter-spacing="0.4">ILW-H</text>
<polyline points="1390.5,1356.9 1390.5,1348.6 1529.8,1348.6 1529.8,1356.9" fill="none" stroke="#000" stroke-width="1.3" stroke-linejoin="miter"/>
<polyline points="1540.4,1356.9 1540.4,1348.6 1692.2,1348.6 1692.2,1356.9" fill="none" stroke="#000" stroke-width="1.3" stroke-linejoin="miter"/>
<text x="1459.6" y="1349.6" font-size="26" fill="#000" text-anchor="middle" class="ss" stroke="#000" stroke-width="0.7">**</text>
<text x="1607" y="1341.9" font-size="16" fill="#000" text-anchor="middle" class="ss" stroke="#000" stroke-width="0.45">#</text>
<text transform="translate(1236.8 1514.7) rotate(-90)" font-size="25.5" font-weight="bold" text-anchor="middle" textLength="215.8" lengthAdjust="spacing">AMP in liver (ng/g)</text>
</svg></body></html>
